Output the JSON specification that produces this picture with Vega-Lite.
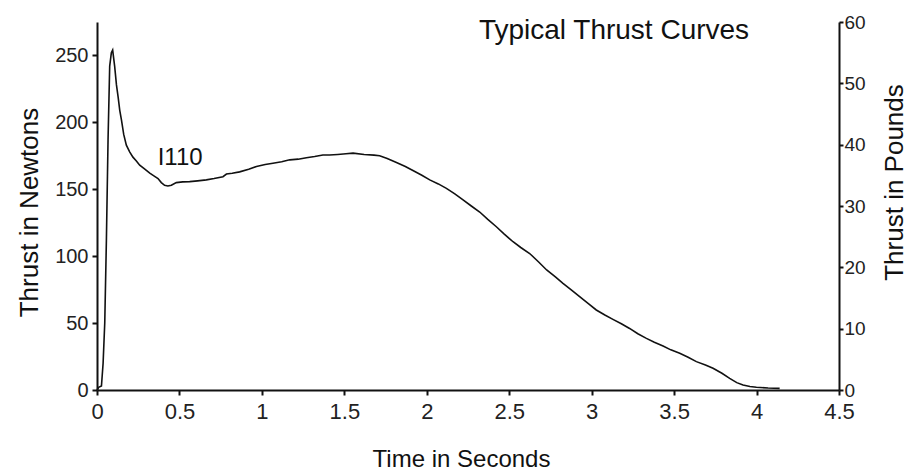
{
  "$schema": "https://vega.github.io/schema/vega-lite/v6.json",
  "width": 742,
  "height": 368,
  "autosize": "none",
  "padding": {"left": 97, "top": 22, "right": 78, "bottom": 81},
  "background": "white",
  "config": {
    "view": {"stroke": null},
    "font": "Liberation Sans",
    "axis": {
      "grid": false,
      "domainColor": "#111",
      "domainWidth": 2,
      "tickColor": "#111",
      "tickWidth": 2,
      "labelColor": "#222",
      "titleColor": "#111",
      "labelFont": "Liberation Sans",
      "titleFont": "Liberation Sans",
      "titleFontWeight": "normal"
    }
  },
  "title": {
    "text": "Typical Thrust Curves",
    "fontSize": 28,
    "fontWeight": "normal",
    "font": "Liberation Sans",
    "color": "#111",
    "orient": "none",
    "anchor": "middle",
    "dx": 517,
    "dy": 17,
    "baseline": "alphabetic"
  },
  "layer": [
    {
      "layer": [
        {
          "data": {
            "values": [
              {"time": 0, "thrust": 0},
              {"time": 0.01, "thrust": 2},
              {"time": 0.027, "thrust": 3},
              {"time": 0.037, "thrust": 20},
              {"time": 0.047, "thrust": 50},
              {"time": 0.057, "thrust": 112},
              {"time": 0.067, "thrust": 187},
              {"time": 0.077, "thrust": 242},
              {"time": 0.087, "thrust": 252},
              {"time": 0.095, "thrust": 254},
              {"time": 0.107, "thrust": 242},
              {"time": 0.118, "thrust": 228},
              {"time": 0.128, "thrust": 219},
              {"time": 0.138, "thrust": 209},
              {"time": 0.148, "thrust": 202},
              {"time": 0.162, "thrust": 191},
              {"time": 0.178, "thrust": 183},
              {"time": 0.198, "thrust": 178},
              {"time": 0.218, "thrust": 174},
              {"time": 0.24, "thrust": 171},
              {"time": 0.259, "thrust": 168},
              {"time": 0.29, "thrust": 165},
              {"time": 0.32, "thrust": 162},
              {"time": 0.345, "thrust": 160},
              {"time": 0.37, "thrust": 158},
              {"time": 0.39, "thrust": 155},
              {"time": 0.41, "thrust": 153},
              {"time": 0.43, "thrust": 152.5},
              {"time": 0.451, "thrust": 153},
              {"time": 0.481, "thrust": 155},
              {"time": 0.52, "thrust": 155.5},
              {"time": 0.562, "thrust": 155.7},
              {"time": 0.61, "thrust": 156.3},
              {"time": 0.663, "thrust": 157},
              {"time": 0.71, "thrust": 158},
              {"time": 0.764, "thrust": 159.4},
              {"time": 0.785, "thrust": 161.4},
              {"time": 0.82, "thrust": 162},
              {"time": 0.865, "thrust": 163},
              {"time": 0.92, "thrust": 165},
              {"time": 0.967, "thrust": 167},
              {"time": 1.02, "thrust": 168.5},
              {"time": 1.067, "thrust": 169.4},
              {"time": 1.12, "thrust": 170.5},
              {"time": 1.169, "thrust": 172},
              {"time": 1.22, "thrust": 172.5},
              {"time": 1.27, "thrust": 173.6},
              {"time": 1.32, "thrust": 174.5},
              {"time": 1.37, "thrust": 175.6},
              {"time": 1.41, "thrust": 175.6},
              {"time": 1.46, "thrust": 176},
              {"time": 1.51, "thrust": 176.5},
              {"time": 1.553, "thrust": 177},
              {"time": 1.62, "thrust": 176},
              {"time": 1.68, "thrust": 175.5},
              {"time": 1.714, "thrust": 175},
              {"time": 1.76, "thrust": 173},
              {"time": 1.816, "thrust": 170},
              {"time": 1.87, "thrust": 167},
              {"time": 1.916, "thrust": 164},
              {"time": 1.97, "thrust": 160.5},
              {"time": 2.018, "thrust": 157},
              {"time": 2.07, "thrust": 154},
              {"time": 2.119, "thrust": 150.7},
              {"time": 2.17, "thrust": 146.5},
              {"time": 2.22, "thrust": 142},
              {"time": 2.27, "thrust": 137.5},
              {"time": 2.321, "thrust": 133},
              {"time": 2.37, "thrust": 127.5},
              {"time": 2.422, "thrust": 122},
              {"time": 2.47, "thrust": 116.5},
              {"time": 2.523, "thrust": 110.8},
              {"time": 2.57, "thrust": 106.5},
              {"time": 2.624, "thrust": 102},
              {"time": 2.68, "thrust": 95.5},
              {"time": 2.727, "thrust": 89.7},
              {"time": 2.78, "thrust": 84.5},
              {"time": 2.826, "thrust": 79.7},
              {"time": 2.88, "thrust": 74.5},
              {"time": 2.927, "thrust": 69.7},
              {"time": 2.98, "thrust": 64.5},
              {"time": 3.028, "thrust": 59.8},
              {"time": 3.08, "thrust": 56},
              {"time": 3.129, "thrust": 52.8},
              {"time": 3.18, "thrust": 49.5},
              {"time": 3.23, "thrust": 46},
              {"time": 3.28, "thrust": 42},
              {"time": 3.332, "thrust": 38.6},
              {"time": 3.38, "thrust": 35.7},
              {"time": 3.433, "thrust": 32.9},
              {"time": 3.48, "thrust": 30},
              {"time": 3.534, "thrust": 27.4},
              {"time": 3.585, "thrust": 24.5},
              {"time": 3.635, "thrust": 21.2},
              {"time": 3.69, "thrust": 18.7},
              {"time": 3.736, "thrust": 16.2},
              {"time": 3.79, "thrust": 12.5},
              {"time": 3.837, "thrust": 8.7},
              {"time": 3.88, "thrust": 5.5},
              {"time": 3.918, "thrust": 3.7},
              {"time": 3.96, "thrust": 2.6},
              {"time": 3.999, "thrust": 2},
              {"time": 4.07, "thrust": 1.5},
              {"time": 4.14, "thrust": 1.2}
            ]
          },
          "mark": {"type": "line", "color": "#111", "strokeWidth": 1.6},
          "encoding": {
            "x": {
              "field": "time",
              "type": "quantitative",
              "scale": {"domain": [0, 4.5], "nice": false, "zero": false},
              "axis": {
                "values": [0, 0.5, 1, 1.5, 2, 2.5, 3, 3.5, 4, 4.5],
                "format": "~g",
                "tickSize": 5,
                "labelPadding": 6,
                "labelFontSize": 22,
                "labelFlush": false,
                "title": "Time in Seconds",
                "titleFontSize": 24,
                "titleX": 364,
                "titleY": 76,
                "titleAlign": "center",
                "titleBaseline": "alphabetic"
              }
            },
            "y": {
              "field": "thrust",
              "type": "quantitative",
              "scale": {"domain": [0, 275], "nice": false},
              "axis": {
                "values": [0, 50, 100, 150, 200, 250],
                "tickSize": 5,
                "labelPadding": 4,
                "labelFontSize": 20,
                "title": "Thrust in Newtons",
                "titleFontSize": 26,
                "titleAngle": 270,
                "titleX": -60,
                "titleY": 190,
                "titleAlign": "center",
                "titleBaseline": "alphabetic"
              }
            }
          }
        },
        {
          "data": {"values": [{"time": 0.368, "thrust": 168.2, "label": "I110"}]},
          "mark": {"type": "text", "align": "left", "baseline": "alphabetic", "fontSize": 24, "font": "Liberation Sans", "color": "#111"},
          "encoding": {
            "x": {"field": "time", "type": "quantitative", "title": "Time in Seconds"},
            "y": {"field": "thrust", "type": "quantitative", "title": "Thrust in Newtons"},
            "text": {"field": "label"}
          }
        }
      ]
    },
    {
      "data": {"values": [{"pounds": 0}]},
      "mark": {"type": "rule", "opacity": 0},
      "encoding": {
        "y": {
          "field": "pounds",
          "type": "quantitative",
          "scale": {"domain": [0, 60], "nice": false},
          "axis": {
            "orient": "right",
            "values": [0, 10, 20, 30, 40, 50, 60],
            "tickSize": 4,
            "labelPadding": 1,
            "labelFontSize": 19,
            "title": "Thrust in Pounds",
            "titleFontSize": 26,
            "titleAngle": 270,
            "titleX": 63,
            "titleY": 160,
            "titleAlign": "center",
            "titleBaseline": "alphabetic"
          }
        }
      }
    }
  ],
  "resolve": {"scale": {"y": "independent"}}
}
